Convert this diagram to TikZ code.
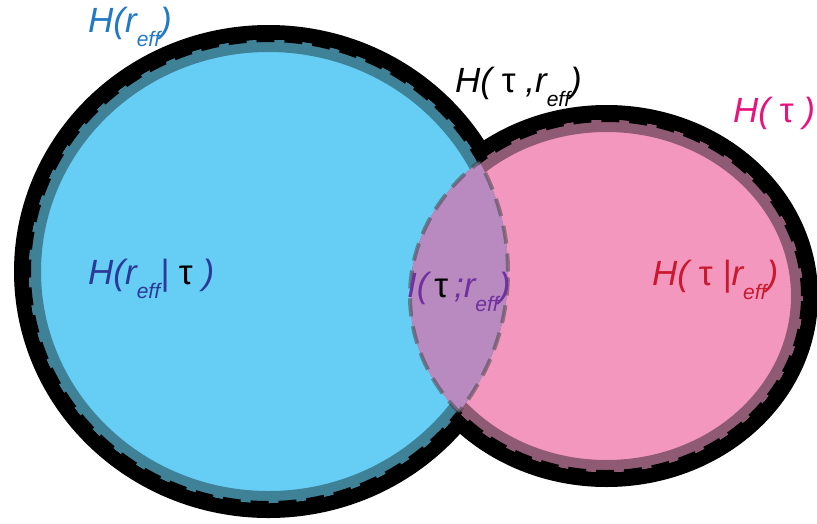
\documentclass[tikz,border=0pt]{standalone}
\usepackage{fontspec}
\setmainfont{Liberation Sans}
\usetikzlibrary{positioning}
\definecolor{vnblue}{HTML}{66CDF4}
\definecolor{vnteal}{HTML}{3F8197}
\definecolor{vnpink}{HTML}{F497BF}
\definecolor{vnplum}{HTML}{8F5A73}
\definecolor{vnpurple}{HTML}{B88ABF}
\definecolor{txblue}{HTML}{2079C7}
\definecolor{txnavy}{HTML}{2B3A96}
\definecolor{txmagenta}{HTML}{E8137F}
\definecolor{txviolet}{HTML}{7030A0}
\definecolor{txcrimson}{HTML}{C8192F}
\newcommand{\reff}{\textit{r}\raisebox{-14pt}{\fontsize{21}{21}\selectfont\itshape eff}}
\newcommand{\tauup}{\textcolor{black}{\upshape τ}}
\tikzset{
  raxes/.style  = {x radius=239.5pt, y radius=231.5pt},
  taxes/.style  = {x radius=196.5pt, y radius=176pt},
  rim/.style    = {draw=black, line width=30pt},
  band/.style   = {line width=24pt},
  seam/.style   = {draw=black!75, opacity=.5, line width=4pt,
                   dash pattern=on 18pt off 10pt},
  lbl/.style    = {font=\fontsize{35}{37}\selectfont\itshape,
                   anchor=base west, inner sep=0pt},
}
\begin{document}
\begin{tikzpicture}[x=1pt,y=-1pt]
  \useasboundingbox (0,0) rectangle (817,523);
  \coordinate (cr) at (268.5,271.5);
  \coordinate (ct) at (606.5,296);
  % outer rim
  \draw[rim] (cr) ellipse [raxes];
  \draw[rim] (ct) ellipse [taxes];
  % fills
  \fill[vnblue] (cr) ellipse [raxes];
  \fill[vnpink] (ct) ellipse [taxes];
  % dark bands
  \begin{scope}
    \clip (cr) ellipse [raxes];
    \draw[band,vnteal] (cr) ellipse [raxes];
  \end{scope}
  \begin{scope}
    \clip (ct) ellipse [taxes];
    \draw[band,vnplum] (ct) ellipse [taxes];
  \end{scope}
  % outer seams, almost hidden by the rim
  \begin{scope}[even odd rule]
    \clip (-50,-50) rectangle (870,580) (ct) ellipse [taxes];
    \draw[seam,draw=black,opacity=1] (cr) ellipse [raxes];
  \end{scope}
  \begin{scope}[even odd rule]
    \clip (-50,-50) rectangle (870,580) (cr) ellipse [raxes];
    \draw[seam,draw=black,opacity=1] (ct) ellipse [taxes];
  \end{scope}
  % overlap
  \begin{scope}
    \clip (cr) ellipse [raxes];
    \fill[vnpurple] (ct) ellipse [taxes];
  \end{scope}
  \begin{scope}
    \clip (ct) ellipse [taxes];
    \draw[seam] (cr) ellipse [raxes];
  \end{scope}
  \begin{scope}
    \clip (cr) ellipse [raxes];
    \draw[seam] (ct) ellipse [taxes];
  \end{scope}
  % labels
  \node[lbl,text=txblue]    (hr)  at (88,32)   {H(\reff)};
  \node[lbl,text=black]     (htr) at (455,92)  {H( \tauup\ ,\reff)};
  \node[lbl,text=txmagenta] (ht)  at (733,122) {H( {\upshape τ} )};
  \node[lbl,text=txnavy]    (hrt) at (88,284)  {H(\reff| \tauup\ )};
  \node[lbl,text=txviolet]  (itr) at (407,297) {I(\,\tauup\,;\reff)};
  \node[lbl,text=txcrimson] (htg) at (652,285) {H( {\upshape τ} |\reff)};
\end{tikzpicture}
\end{document}
